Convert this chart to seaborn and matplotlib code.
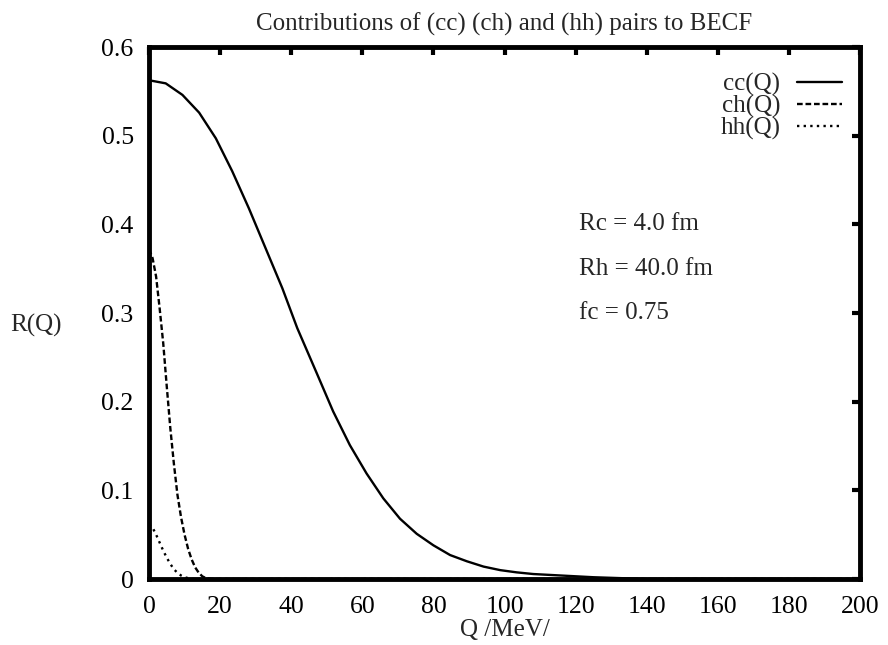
import numpy as np
import pandas as pd
import matplotlib
matplotlib.use("Agg")
import matplotlib.pyplot as plt
import seaborn as sns

# ---- data ----
q_cc = [0, 4.7, 9.4, 14.1, 18.8, 23.4, 28.1, 32.8, 37.5, 41.7, 47.2, 51.8,
        56.5, 61.2, 65.9, 70.6, 75.3, 80.0, 84.7, 89.4, 94.1, 98.8, 103.4,
        108.1, 115.6, 125, 140, 160, 180, 200]
cc = [0.5625, 0.559, 0.546, 0.526, 0.497, 0.460, 0.418, 0.373, 0.328, 0.283,
      0.232, 0.189, 0.151, 0.119, 0.091, 0.068, 0.051, 0.038, 0.027, 0.020,
      0.014, 0.010, 0.0075, 0.0056, 0.004, 0.002, 0.0, 0.0, 0.0, 0.0]

q_ch = [0, 1, 2, 3, 4, 5, 6, 7, 8, 9, 10, 11, 12, 13, 14, 15, 16, 18, 20, 200]
ch = [0.372, 0.362, 0.341, 0.305, 0.266, 0.217, 0.170, 0.130, 0.095, 0.070,
      0.050, 0.034, 0.022, 0.013, 0.007, 0.003, 0.001, 0.0, 0.0, 0.0]

q_hh = [0, 1, 2, 3, 4, 5, 6, 7, 8, 9, 10, 11, 12, 14, 200]
hh = [0.0615, 0.058, 0.050, 0.041, 0.032, 0.024, 0.017, 0.011, 0.007, 0.004,
      0.002, 0.001, 0.0, 0.0, 0.0]

series_names = ["cc(Q)", "ch(Q)", "hh(Q)"]
x_ticks = [0, 20, 40, 60, 80, 100, 120, 140, 160, 180, 200]
y_ticks = [0, 0.1, 0.2, 0.3, 0.4, 0.5, 0.6]
y_tick_labels = ["0", "0.1", "0.2", "0.3", "0.4", "0.5", "0.6"]
params = ["Rc = 4.0 fm", "Rh = 40.0 fm", "fc = 0.75"]
param_y = [0.40, 0.35, 0.30]

df = pd.concat([
    pd.DataFrame({"Q": q_cc, "R": cc, "series": series_names[0]}),
    pd.DataFrame({"Q": q_ch, "R": ch, "series": series_names[1]}),
    pd.DataFrame({"Q": q_hh, "R": hh, "series": series_names[2]}),
], ignore_index=True)

sns.set_theme(style="white")
plt.rcParams["font.family"] = ["Liberation Serif", "DejaVu Serif"]

fig = plt.figure(figsize=(8.88, 6.45), dpi=100)
ax = fig.add_axes([149 / 888, 1 - 579 / 645, (860 - 149) / 888, (579 - 47) / 645])

dash_styles = {
    series_names[0]: "",
    series_names[1]: (2.4, 1.2),
    series_names[2]: (1.0, 1.8),
}
sns.lineplot(data=df, x="Q", y="R", hue="series", style="series",
             palette=["black", "black", "black"], dashes=dash_styles,
             linewidth=1.7, ax=ax, sort=False, estimator=None)

ax.set_xlim(0, 200)
ax.set_ylim(0, 0.6)
ax.set_xticks(x_ticks)
ax.set_xticklabels([str(t) for t in x_ticks])
ax.set_yticks(y_ticks)
ax.set_yticklabels(y_tick_labels)

for sp in ax.spines.values():
    sp.set_visible(True)
    sp.set_linewidth(3.5)
    sp.set_color("black")

ax.tick_params(axis="both", which="major", direction="in", length=6, width=3,
               top=True, right=True, labelsize=18.5, color="black",
               labelcolor="black")
ax.tick_params(axis="x", pad=12)
ax.tick_params(axis="y", pad=11)

ax.set_title("Contributions of (cc) (ch) and (hh) pairs to BECF",
             fontsize=18, pad=12)
ax.set_xlabel("Q /MeV/", fontsize=18, va="center", ha="center")
ax.xaxis.set_label_coords(0.5, -0.096)
ax.set_ylabel("R(Q)", fontsize=18, rotation=0, va="center", ha="center")
ax.yaxis.set_label_coords(-0.159, 0.477)

for txt, yy in zip(params, param_y):
    ax.text(121, yy, txt, fontsize=18, ha="left", va="center")

leg = ax.legend(frameon=False, markerfirst=False, loc="upper right",
                bbox_to_anchor=(0.975, 0.951), fontsize=18, handlelength=1.8,
                labelspacing=-0.04, handletextpad=0.68, borderaxespad=0.0,
                borderpad=0.0)
for line in leg.get_lines():
    line.set_linewidth(1.7)

fig.savefig("out.png", dpi=100)
